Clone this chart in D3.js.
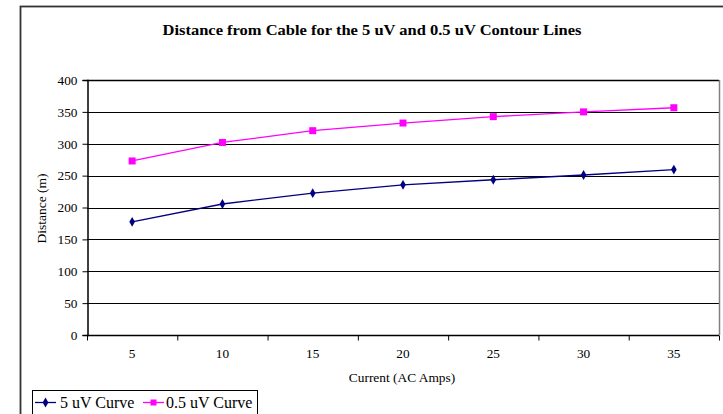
<!DOCTYPE html>
<html><head><meta charset="utf-8">
<script src="https://cdn.jsdelivr.net/npm/d3@7/dist/d3.min.js"></script>
<style>body{margin:0;background:#fff;} svg{display:block;} svg text{font-family:"Liberation Serif","Times New Roman",serif !important;fill:#000;}</style>
</head><body><svg id="c" width="723" height="414"></svg>
<script>
const categories = [5, 10, 15, 20, 25, 30, 35];
const curve5uV = [177.5, 205.5, 222.5, 235.5, 243.5, 251, 259.5];
const curve05uV = [273, 302, 320.5, 332.5, 342.5, 350, 356.5];
const yTicks = [0, 50, 100, 150, 200, 250, 300, 350, 400];
const seriesNames = ["5 uV Curve", "0.5 uV Curve"];

const svg = d3.select("#c");
const L = 87, R = 719, T = 80, B = 335;

// outer chart border
svg.append("rect").attr("x", 20.5).attr("y", 6.5).attr("width", 710).attr("height", 420)
  .attr("fill", "#fff").attr("stroke", "#333").attr("stroke-width", 1.8);

svg.append("text").attr("x", 372).attr("y", 35).attr("text-anchor", "middle")
  .attr("font-weight", "bold").style("font-size", "14px")
  .attr("textLength", 419).attr("lengthAdjust", "spacingAndGlyphs")
  .text("Distance from Cable for the 5 uV and 0.5 uV Contour Lines");

const x = d3.scaleBand().domain(categories).range([L, R]).padding(0);
const y = d3.scaleLinear().domain([0, 400]).range([B, T]);

// gridlines
svg.append("g").selectAll("line").data(yTicks.filter(d => d > 0)).join("line")
  .attr("x1", L).attr("x2", R).attr("y1", d => Math.round(y(d)) + 0.5).attr("y2", d => Math.round(y(d)) + 0.5)
  .attr("stroke", "#000").attr("stroke-width", d => d === 400 ? 1.5 : 1);
// plot right border
svg.append("line").attr("x1", R + 0.5).attr("x2", R + 0.5).attr("y1", T).attr("y2", B)
  .attr("stroke", "#808080").attr("stroke-width", 1.5);

// y axis
const yAxis = svg.append("g").attr("transform", `translate(${L + 0.5},0)`).attr("font-size", 13.3)
  .call(d3.axisLeft(y).tickValues(yTicks).tickSize(5).tickPadding(5).tickFormat(d3.format("d")));
yAxis.attr("font-size", 13.3);
yAxis.select(".domain").attr("stroke", "#000").attr("stroke-width", 1.5);
yAxis.selectAll("text").style("font-size", "13.3px");

// x axis
const xAxis = svg.append("g").attr("transform", `translate(0,${B + 0.5})`)
  .call(d3.axisBottom(x).tickSize(0).tickPadding(13));
xAxis.attr("font-size", 13.3);
xAxis.select(".domain").remove();
xAxis.append("line").attr("x1", L).attr("x2", R).attr("stroke", "#000").attr("stroke-width", 1.5);
xAxis.selectAll(".tick text").style("font-size", "13.3px");
const bounds = categories.map(c => x(c)).concat([R]);
xAxis.selectAll(".bt").data(bounds).join("line").attr("class", "bt")
  .attr("x1", d => d + 0.5).attr("x2", d => d + 0.5).attr("y1", 0).attr("y2", 5).attr("stroke", "#000");

svg.append("text").attr("transform", `translate(46,${(T + B) / 2 + 1}) rotate(-90)`).attr("text-anchor", "middle")
  .style("font-size", "13.5px").text("Distance (m)");
svg.append("text").attr("x", 402).attr("y", 382).attr("text-anchor", "middle")
  .style("font-size", "13.4px").text("Current (AC Amps)");

const cx = d => x(d) + x.bandwidth() / 2;
const line = d3.line().x((d, i) => cx(categories[i])).y(d => y(d));

svg.append("path").datum(curve5uV).attr("d", line).attr("fill", "none").attr("stroke", "#000080").attr("stroke-width", 1.3);
svg.append("path").datum(curve05uV).attr("d", line).attr("fill", "none").attr("stroke", "#FF00FF").attr("stroke-width", 1.3);

const diamond = d3.symbol().type(d3.symbolDiamond).size(28);
svg.append("g").selectAll("path").data(curve5uV).join("path")
  .attr("transform", (d, i) => `translate(${cx(categories[i])},${y(d)})`).attr("d", diamond).attr("fill", "#000080");
svg.append("g").selectAll("rect").data(curve05uV).join("rect")
  .attr("x", (d, i) => cx(categories[i]) - 3.5).attr("y", d => y(d) - 3.5).attr("width", 7).attr("height", 7).attr("fill", "#FF00FF");

// legend
const lg = svg.append("g");
lg.append("rect").attr("x", 32.5).attr("y", 390.5).attr("width", 225).attr("height", 30)
  .attr("fill", "#fff").attr("stroke", "#000").attr("stroke-width", 1);
const items = [
  { name: seriesNames[0], x0: 35, color: "#000080", shape: "d", tx: 60 },
  { name: seriesNames[1], x0: 143, color: "#FF00FF", shape: "s", tx: 166 }
];
items.forEach(it => {
  const ly = 402.5;
  lg.append("line").attr("x1", it.x0).attr("x2", it.x0 + 21).attr("y1", ly).attr("y2", ly).attr("stroke", it.color).attr("stroke-width", 1.3);
  if (it.shape === "d") lg.append("path").attr("transform", `translate(${it.x0 + 10.5},${ly})`).attr("d", diamond).attr("fill", it.color);
  else lg.append("rect").attr("x", it.x0 + 7.5).attr("y", ly - 3).attr("width", 6).attr("height", 6).attr("fill", it.color);
  lg.append("text").attr("x", it.tx).attr("y", 408).style("font-size", "16px").text(it.name);
});
</script></body></html>
